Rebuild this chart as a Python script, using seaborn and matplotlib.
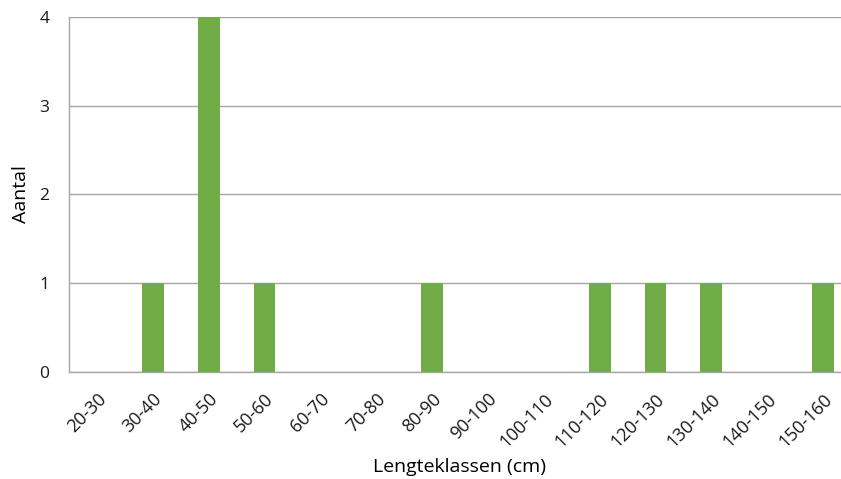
import matplotlib
matplotlib.use("Agg")
import matplotlib.pyplot as plt
import seaborn as sns
import pandas as pd

# Data
klassen = ["20-30", "30-40", "40-50", "50-60", "60-70", "70-80", "80-90", "90-100",
           "100-110", "110-120", "120-130", "130-140", "140-150", "150-160"]
aantal = [0, 1, 4, 1, 0, 0, 1, 0, 0, 1, 1, 1, 0, 1]
yticks = [0, 1, 2, 3, 4]

sns.set_style("white")
plt.rcParams["font.family"] = ["Open Sans", "DejaVu Sans"]

df = pd.DataFrame({"klasse": klassen, "aantal": aantal})

fig = plt.figure(figsize=(8.41, 4.79), dpi=100)
# the plot area runs a little past the right edge, as in the source image
ax = fig.add_axes([0.082, 0.2234, 1.0119 - 0.082, 0.9645 - 0.2234])

sns.barplot(data=df, x="klasse", y="aantal", color="#70AD47", saturation=1,
            width=0.39, linewidth=0, ax=ax, zorder=3)

grid = "#A6A6A6"
ax.set_ylim(0, 4)
ax.set_xlim(-0.5, len(klassen) - 0.5)
ax.set_yticks(yticks)
ax.yaxis.grid(True, color=grid, linewidth=1, zorder=0)
for s in ["top", "right"]:
    ax.spines[s].set_visible(False)
for s in ["left", "bottom"]:
    ax.spines[s].set_color(grid)
    ax.spines[s].set_linewidth(1)

ax.set_xticks(range(len(klassen)))
ax.set_xticklabels(klassen, rotation=45, ha="right", rotation_mode="anchor", fontsize=13)
ax.set_xticks([i - 0.5 for i in range(len(klassen) + 1)], minor=True)
ax.tick_params(axis="x", which="major", length=0, pad=13)
ax.tick_params(axis="x", which="minor", length=5, color=grid, width=1, direction="out")
ax.tick_params(axis="y", length=6, color=grid, width=1, direction="out", labelsize=12.5, pad=8)
ax.tick_params(axis="both", labelcolor="#1a1a1a")

ax.set_xlabel("Lengteklassen (cm)", fontsize=14, color="black")
ax.xaxis.set_label_coords(0.5, -0.243)
ax.set_ylabel("Aantal", fontsize=14, color="black")
ax.yaxis.set_label_coords(-0.050, 0.5)

fig.savefig("out.png", dpi=100)
